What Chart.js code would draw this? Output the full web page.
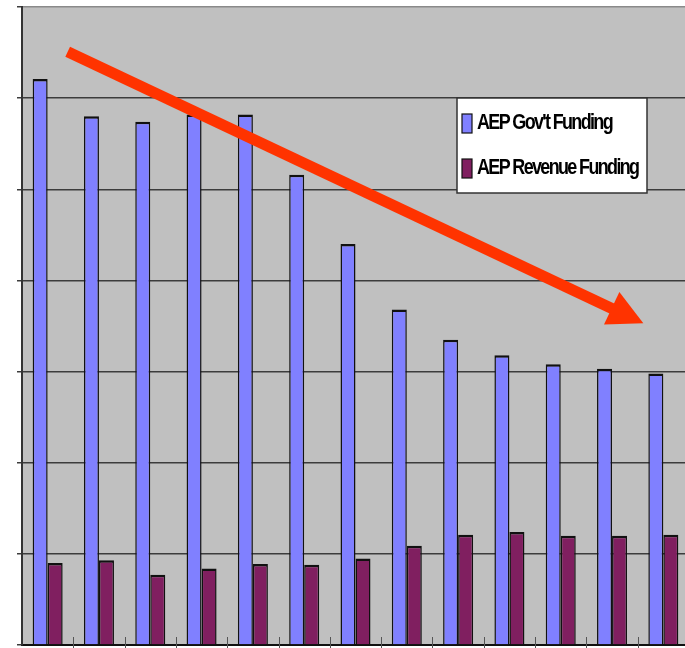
<!DOCTYPE html>
<html>
<head>
<meta charset="utf-8">
<script src="https://cdn.jsdelivr.net/npm/chart.js@4.4.1/dist/chart.umd.min.js"></script>
<style>
  body { margin: 0; background: #fff; overflow: hidden; }
  #wrap { width: 692px; height: 648px; }
</style>
</head>
<body>
<div id="wrap"><canvas id="fundingChart"></canvas></div>
<script>
// periods along the x axis (no labels are printed on this chart)
const periods = ["1", "2", "3", "4", "5", "6", "7", "8", "9", "10", "11", "12", "13"];
const govtFunding = [6.21, 5.80, 5.74, 5.82, 5.82, 5.16, 4.40, 3.68, 3.35, 3.18, 3.08, 3.03, 2.98];
const revenueFunding = [0.90, 0.93, 0.77, 0.84, 0.89, 0.88, 0.95, 1.09, 1.21, 1.24, 1.20, 1.20, 1.21];
const seriesNames = ["AEP Gov't Funding", "AEP Revenue Funding"];
const yTicks = [0, 1, 2, 3, 4, 5, 6, 7];
// trend arrow in data units: [category index, value]
const trendFrom = [0.39, 6.51];
const trendTo = [11.61, 3.53];

document.addEventListener("DOMContentLoaded", function () {

  // grey plot background
  const plotBackground = {
    id: "plotBackground",
    beforeDraw(chart) {
      const { ctx, chartArea: a } = chart;
      ctx.save();
      ctx.fillStyle = "#c0c0c0";
      ctx.fillRect(a.left, a.top, a.right - a.left, a.bottom - a.top);
      ctx.restore();
    }
  };

  // small category separator ticks that cross the x axis
  const crossTicks = {
    id: "crossTicks",
    afterDatasetsDraw(chart) {
      const { ctx, chartArea: a } = chart;
      const x = chart.scales.x;
      ctx.save();
      ctx.strokeStyle = "#555";
      ctx.lineWidth = 1;
      for (let i = 1; i < periods.length; i++) {
        const px = Math.round((x.getPixelForValue(i - 1) + x.getPixelForValue(i)) / 2) + 0.5;
        ctx.beginPath();
        ctx.moveTo(px, a.bottom - 8);
        ctx.lineTo(px, a.bottom + 3);
        ctx.stroke();
      }
      ctx.restore();
    }
  };

  // red downward trend arrow
  const trendArrow = {
    id: "trendArrow",
    afterDatasetsDraw(chart) {
      const { ctx } = chart;
      const x = chart.scales.x, y = chart.scales.y;
      const x0 = x.getPixelForValue(trendFrom[0]), y0 = y.getPixelForValue(trendFrom[1]);
      const x1 = x.getPixelForValue(trendTo[0]), y1 = y.getPixelForValue(trendTo[1]);
      const len = Math.hypot(x1 - x0, y1 - y0);
      const ux = (x1 - x0) / len, uy = (y1 - y0) / len;
      const headLen = 35, headHalf = 18;
      const bx = x1 - ux * headLen, by = y1 - uy * headLen;
      ctx.save();
      ctx.strokeStyle = "#ff3300";
      ctx.fillStyle = "#ff3300";
      ctx.lineWidth = 11;
      ctx.lineCap = "butt";
      ctx.beginPath();
      ctx.moveTo(x0, y0);
      ctx.lineTo(bx + ux * 2, by + uy * 2);
      ctx.stroke();
      ctx.beginPath();
      ctx.moveTo(x1, y1);
      ctx.lineTo(bx - uy * headHalf, by + ux * headHalf);
      ctx.lineTo(bx + uy * headHalf, by - ux * headHalf);
      ctx.closePath();
      ctx.fill();
      ctx.restore();
    }
  };

  // boxed legend sitting inside the plot, with tightly packed text
  const boxLegend = {
    id: "boxLegend",
    afterDraw(chart) {
      const { ctx } = chart;
      const box = { x: 457, y: 98, w: 190, h: 95 };
      ctx.save();
      ctx.fillStyle = "#fff";
      ctx.fillRect(box.x, box.y, box.w, box.h);
      ctx.strokeStyle = "#333";
      ctx.lineWidth = 1.5;
      ctx.strokeRect(box.x, box.y, box.w, box.h);

      ctx.font = "bold 22px 'Liberation Sans', Arial, sans-serif";
      ctx.letterSpacing = "-2px";
      ctx.textBaseline = "alphabetic";
      const squeeze = 135 / ctx.measureText(seriesNames[0]).width;
      chart.data.datasets.forEach((ds, i) => {
        const top = box.y + 16 + i * 45;
        ctx.fillStyle = ds.backgroundColor;
        ctx.fillRect(462, top, 10, 19);
        ctx.strokeStyle = "#111";
        ctx.lineWidth = 1.2;
        ctx.strokeRect(462, top, 10, 19);
        ctx.save();
        ctx.translate(477, top + 15);
        ctx.scale(squeeze, 1);
        ctx.fillStyle = "#000";
        ctx.fillText(ds.label, 0, 0);
        ctx.restore();
      });
      ctx.restore();
    }
  };

  const barBorder = { top: 2.5, left: 1.5, right: 1.5, bottom: 0 };

  new Chart(document.getElementById("fundingChart"), {
    type: "bar",
    data: {
      labels: periods,
      datasets: [
        {
          label: seriesNames[0],
          data: govtFunding,
          backgroundColor: "#8080ff",
          borderColor: "#111",
          borderWidth: barBorder,
          borderSkipped: "start"
        },
        {
          label: seriesNames[1],
          data: revenueFunding,
          backgroundColor: "#801f60",
          borderColor: "#111",
          borderWidth: barBorder,
          borderSkipped: "start"
        }
      ]
    },
    options: {
      responsive: true,
      maintainAspectRatio: false,
      animation: false,
      layout: { padding: { left: 0, top: 7, right: 3, bottom: 0 } },
      datasets: {
        bar: { categoryPercentage: 0.585, barPercentage: 1.0 }
      },
      plugins: {
        legend: { display: false },
        tooltip: { enabled: false }
      },
      scales: {
        x: {
          ticks: { display: false },
          grid: { display: false },
          border: { display: true, color: "#111", width: 2 },
          afterFit(scale) { scale.height = 3; }
        },
        y: {
          min: yTicks[0],
          max: yTicks[yTicks.length - 1],
          afterBuildTicks(scale) { scale.ticks = yTicks.map(v => ({ value: v })); },
          ticks: { display: false },
          grid: {
            color: ctx => (ctx.tick && ctx.tick.value === yTicks[yTicks.length - 1]) ? "#8a8a8a" : "#3c3c3c",
            lineWidth: 1.5,
            drawTicks: true,
            tickLength: 5,
            tickColor: "#3c3c3c"
          },
          border: { display: true, color: "#333", width: 2 },
          afterFit(scale) { scale.width = 22; }
        }
      }
    },
    plugins: [plotBackground, crossTicks, trendArrow, boxLegend]
  });

});
</script>
</body>
</html>
